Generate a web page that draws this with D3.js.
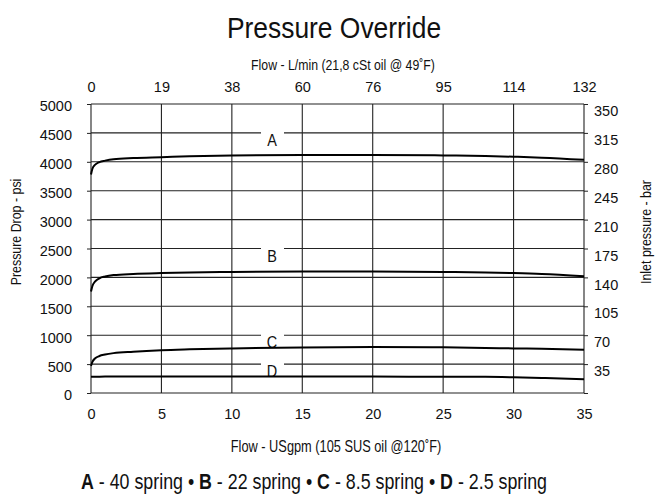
<!DOCTYPE html>
<html>
<head>
<meta charset="utf-8">
<script src="https://cdn.jsdelivr.net/npm/d3@7"></script>
<style>
  body { margin: 0; background: #fff; }
  svg text { font-family: "Liberation Sans", Arial, sans-serif; fill: #111; }
</style>
</head>
<body>
<div id="chart"></div>
<script>
// flow in US gpm, pressure in psi
var flowGpm = [0, 0.1, 0.3, 0.6, 1, 1.6, 3, 5, 7, 10, 15, 20, 25, 28, 30, 32, 35];
var springA = [3780, 3880, 3950, 3995, 4020, 4045, 4065, 4080, 4095, 4110, 4118, 4118, 4110, 4100, 4088, 4072, 4035];
var springB = [1755, 1850, 1930, 1985, 2015, 2040, 2060, 2075, 2085, 2095, 2102, 2102, 2095, 2085, 2075, 2060, 2020];
var springC = [470, 540, 600, 640, 665, 690, 715, 740, 755, 772, 788, 795, 790, 780, 772, 765, 750];
var springD = [280, 281, 282, 283, 284, 285, 285, 285, 285, 285, 285, 284, 282, 280, 272, 260, 240];

var seriesNames = ['A', 'B', 'C', 'D'];
var labelPsi = [4500, 2500, 1000, 500];
var springText = ['40 spring', '22 spring', '8.5 spring', '2.5 spring'];

var gpmTicks = [0, 5, 10, 15, 20, 25, 30, 35];
var lpmLabels = ['0', '19', '38', '60', '76', '95', '114', '132'];
var psiTicks = [0, 500, 1000, 1500, 2000, 2500, 3000, 3500, 4000, 4500, 5000];
var barTicks = [0, 35, 70, 105, 140, 175, 210, 245, 280, 315, 350];

var margin = {top: 104, right: 71, bottom: 101, left: 91};
var width = 655 - margin.left - margin.right,
    height = 494 - margin.top - margin.bottom;

var svg = d3.select('#chart').append('svg')
  .attr('width', 655)
  .attr('height', 494);

var g = svg.append('g')
  .attr('transform', 'translate(' + margin.left + ',' + margin.top + ')');

var x = d3.scaleLinear().domain([0, 35]).range([0, width]);
var y = d3.scaleLinear().domain([0, 5000]).range([height, 0]);
var yBar = d3.scaleLinear().domain([0, 350]).range([height, 0]);

// grid
g.append('g').selectAll('line')
  .data(psiTicks)
  .enter().append('line')
    .attr('x1', 0).attr('x2', width)
    .attr('y1', function(d) { return y(d); })
    .attr('y2', function(d) { return y(d); })
    .attr('stroke', '#222').attr('stroke-width', 1.1);

g.append('g').selectAll('line')
  .data(gpmTicks)
  .enter().append('line')
    .attr('y1', 0).attr('y2', height)
    .attr('x1', function(d) { return x(d); })
    .attr('x2', function(d) { return x(d); })
    .attr('stroke', '#222').attr('stroke-width', 1.1);

// curve letters sit on a grid line with a gap behind them
var lab = g.append('g').selectAll('g')
  .data(seriesNames)
  .enter().append('g')
    .attr('transform', function(d, i) { return 'translate(' + x(12.85) + ',' + y(labelPsi[i]) + ')'; });
lab.append('rect')
  .attr('x', -11).attr('y', -3)
  .attr('width', 23).attr('height', 6)
  .attr('fill', '#fff');
lab.append('text')
  .attr('text-anchor', 'middle')
  .attr('transform', 'translate(0,13) scale(0.85,1)')
  .style('font-size', '17px')
  .text(function(d) { return d; });

// curves
var line = d3.line()
  .x(function(d) { return x(d[0]); })
  .y(function(d) { return y(d[1]); })
  .curve(d3.curveMonotoneX);

[springA, springB, springC, springD].forEach(function(s) {
  g.append('path')
    .datum(flowGpm.map(function(f, i) { return [f, s[i]]; }))
    .attr('d', line)
    .attr('fill', 'none')
    .attr('stroke', '#000')
    .attr('stroke-width', 2);
});

// axes
var axisStyle = function(sel) {
  sel.select('.domain').remove();
  sel.selectAll('text').style('font-size', '14.5px').attr('fill', '#111');
  sel.selectAll('line').attr('stroke', '#222');
};

g.append('g')
  .call(d3.axisLeft(y).tickValues(psiTicks).tickSize(4).tickPadding(15).tickFormat(d3.format('d')))
  .call(axisStyle)
  .selectAll('text').attr('dy', '0.48em');

g.append('g')
  .attr('transform', 'translate(' + width + ',0)')
  .call(d3.axisRight(yBar).tickValues(barTicks).tickSize(4).tickPadding(6)
    .tickFormat(function(d) { return d == 0 ? '' : d; }))
  .call(axisStyle)
  .selectAll('text').attr('dy', '0.8em');

g.append('g')
  .call(d3.axisTop(x).tickValues(gpmTicks).tickSize(0).tickPadding(12)
    .tickFormat(function(d, i) { return lpmLabels[i]; }))
  .call(axisStyle);

g.append('g')
  .attr('transform', 'translate(0,' + height + ')')
  .call(d3.axisBottom(x).tickValues(gpmTicks).tickSize(0).tickPadding(16))
  .call(axisStyle);

// narrow text: the original uses a condensed face
function label(cx, cy, size, sx, rot) {
  return svg.append('text')
    .attr('text-anchor', 'middle')
    .attr('transform', 'translate(' + cx + ',' + cy + ') rotate(' + rot + ') scale(' + sx + ',1)')
    .style('font-size', size + 'px');
}

label(334, 38, 30, 0.88, 0).text('Pressure Override');
label(343, 70, 15, 0.82, 0).text('Flow - L/min (21,8 cSt oil @ 49˚F)');
label(336, 452, 16, 0.8, 0).text('Flow - USgpm (105 SUS oil @120˚F)');
label(21, 232, 15.5, 0.8, -90).text('Pressure Drop - psi');
label(651, 232, 15.5, 0.8, -90).text('Inlet pressure - bar');

// spring legend
var legend = label(314, 489, 22, 0.81, 0);
seriesNames.forEach(function(n, i) {
  legend.append('tspan').style('font-weight', 'bold').text(n);
  legend.append('tspan').text(' - ' + springText[i] + (i < seriesNames.length - 1 ? ' \u2022 ' : ''));
});
</script>
</body>
</html>
